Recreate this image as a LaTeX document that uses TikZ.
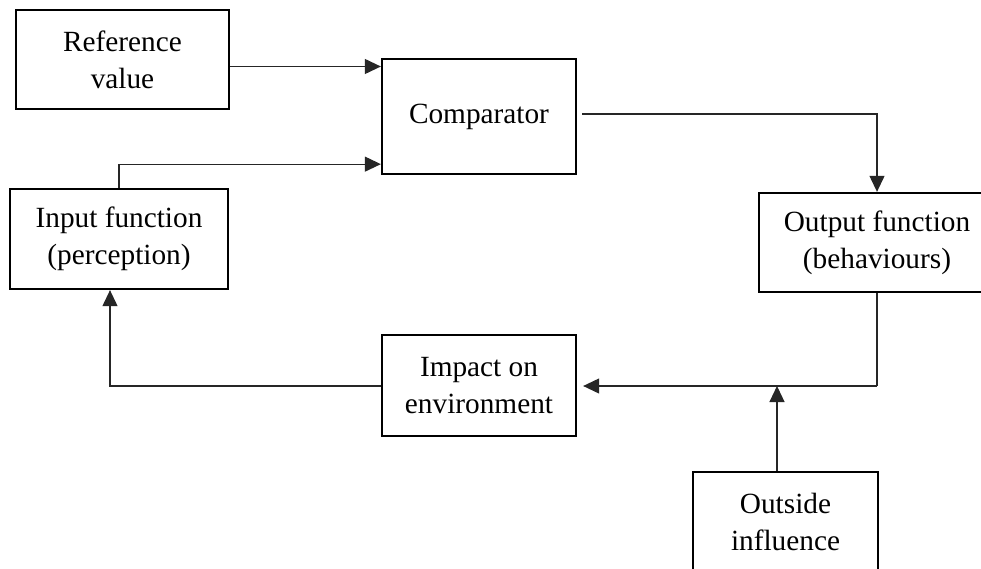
\documentclass[tikz,border=0pt]{standalone}
\usepackage{fontspec}
\setmainfont{Liberation Serif}
\usetikzlibrary{arrows.meta}

\tikzset{
  block/.style={draw, line width=2.3pt, align=center, inner sep=0pt,
    font=\fontsize{29.3}{37}\selectfont},
  link/.style={line width=1.1pt, draw=black!85},
  arr/.style={link, -{Triangle[length=16pt,width=15pt]}}
}

\begin{document}
\begin{tikzpicture}[x=1pt,y=-1pt]
  \clip (0,0) rectangle (981,569);
  \fill[white] (0,0) rectangle (981,569);

  % blocks of the control loop
  \node[block, minimum width=213pt, minimum height=99pt]  (ref)  at (122.5,59.5) {Reference\\value};
  \node[block, minimum width=194pt, minimum height=115pt] (comp) at (479,116.5)  {Comparator};
  \node[block, minimum width=218pt, minimum height=100pt] (inp)  at (119,239)    {Input function\\(perception)};
  \node[block, minimum width=236pt, minimum height=99pt]  (outp) at (877,242.5)  {Output function\\(behaviours)};
  \node[block, minimum width=194pt, minimum height=101pt] (imp)  at (479,385.5)  {Impact on\\environment};
  \node[block, minimum width=185pt, minimum height=100pt] (outs) at (785.5,522)  {Outside\\influence};

  % join points on the lower feedback line
  \coordinate (bend) at (outp.south |- 0,386);
  \coordinate (join) at ([xshift=-8.5pt]outs.north |- 0,386);

  % connectors
  \draw[arr] ([yshift=-7pt]ref.east) -- ([yshift=-7pt]ref.east -| comp.west);
  \draw[arr] (inp.north) |- ([yshift=11pt]comp.south west);
  \draw[arr] ([xshift=5pt,yshift=2.5pt]comp.east) -| (outp.north);
  \draw[link] (outp.south) -- (bend);
  \draw[arr] (bend) -- ([xshift=6pt]imp.east |- bend);
  \draw[arr] ([xshift=-8.5pt]outs.north) -- (join);
  \draw[arr] (imp.west |- 0,386) -| ([xshift=-9pt]inp.south);
\end{tikzpicture}
\end{document}
